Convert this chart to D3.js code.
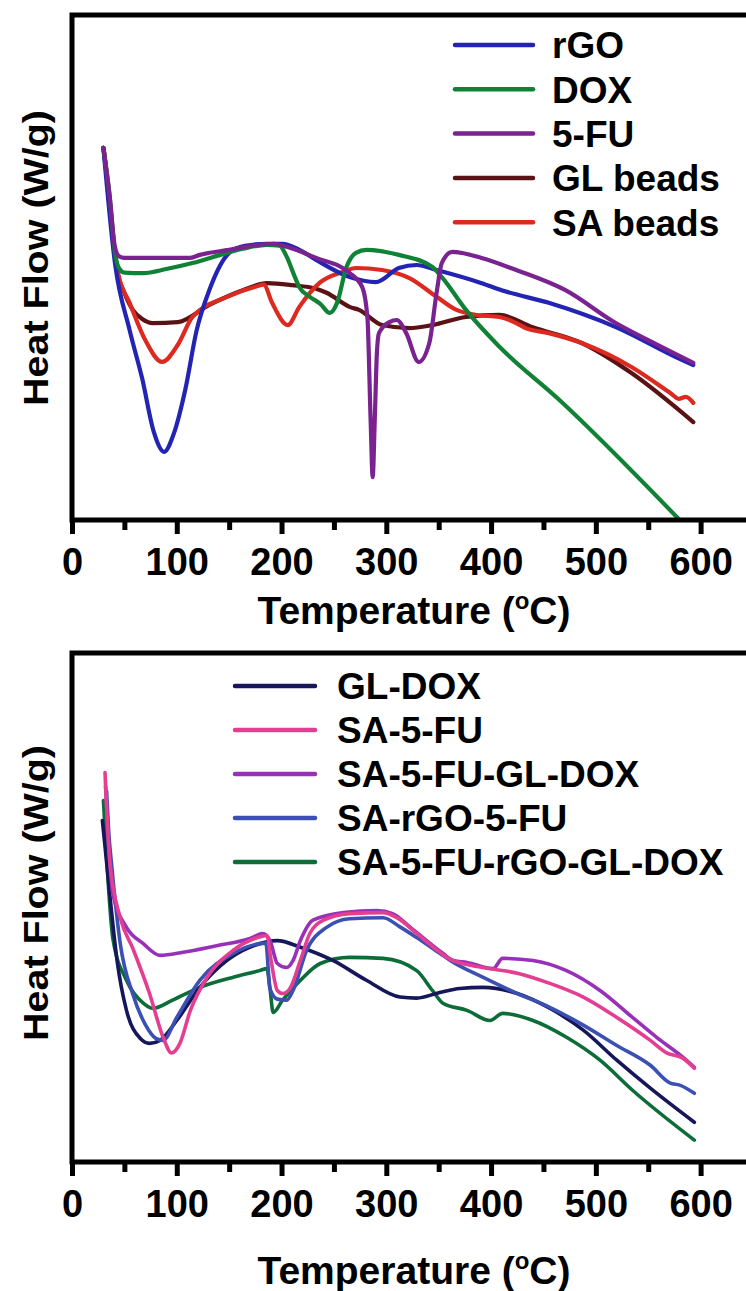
<!DOCTYPE html>
<html>
<head>
<meta charset="utf-8">
<script src="https://cdn.jsdelivr.net/npm/d3@7"></script>
<style>
  html, body { margin: 0; padding: 0; background: #fff; }
  svg { display: block; }
  text { font-family: "Liberation Sans", Arial, sans-serif; font-weight: bold; fill: #000; }
</style>
</head>
<body>
<svg id="chart" width="746" height="1291"></svg>
<script>
// DSC thermograms: heat flow (arbitrary units) against temperature in °C

const temperatureTicks = [0, 100, 200, 300, 400, 500, 600];
const minorTicks = [50, 150, 250, 350, 450, 550, 650];

// ---- upper panel: raw materials and beads ----
const topNames = ["rGO", "DOX", "5-FU", "GL beads", "SA beads"];

const rGO = [[30,7.37],[41,5.09],[55,3.76],[67,2.8],[78,1.75],[88,1.35],[97,1.7],[108,2.57],[119,3.76],[131,4.55],[150,5.29],[165,5.43],[186,5.47],[201,5.47],[217,5.35],[233,5.15],[265,4.81],[290,4.71],[312,4.99],[329,5.05],[348,4.95],[391,4.69],[410,4.55],[455,4.30],[519,3.82],[582,3.17],[593,3.07]];

const DOX = [[30,7.37],[36,6.4],[41,5.3],[45,4.98],[50,4.90],[68,4.89],[90,4.97],[115,5.09],[148,5.29],[163,5.37],[186,5.45],[198,5.43],[205,5.21],[212,4.85],[217,4.61],[227,4.42],[237,4.28],[246,4.10],[253,4.30],[262,5.01],[271,5.29],[281,5.35],[312,5.25],[344,5.01],[353,4.81],[376,4.16],[408,3.43],[465,2.38],[580,0]];

const FU5 = [[30,7.37],[36,6.4],[41,5.4],[45,5.22],[50,5.19],[80,5.19],[112,5.19],[122,5.25],[150,5.35],[179,5.45],[193,5.47],[205,5.41],[233,5.19],[265,4.89],[277,4.61],[282,4.0],[285,2.0],[287,0.85],[289,2.0],[291,3.3],[293,3.7],[303,3.92],[310,3.96],[319,3.70],[331,3.13],[341,3.50],[348,4.50],[353,5.09],[363,5.31],[391,5.19],[424,4.95],[471,4.55],[519,3.90],[550,3.56],[593,3.11]];

const GLbeads = [[30,7.37],[36,6.3],[40,5.4],[43,4.95],[50,4.5],[58,4.16],[67,3.98],[77,3.90],[101,3.92],[131,4.26],[163,4.55],[186,4.69],[210,4.65],[233,4.58],[243,4.50],[265,4.22],[274,4.16],[296,3.86],[322,3.80],[344,3.86],[376,4.02],[408,4.06],[439,3.82],[487,3.50],[534,2.91],[593,1.94]];

const SAbeads = [[30,7.37],[36,6.3],[41,5.3],[44,4.89],[55,4.30],[70,3.56],[86,3.13],[101,3.47],[115,4.02],[148,4.42],[175,4.62],[183,4.66],[191,4.30],[206,3.86],[217,4.22],[236,4.69],[258,4.91],[271,4.99],[296,4.95],[322,4.79],[348,4.42],[367,4.16],[386,4.06],[408,4.02],[424,3.90],[433,3.80],[455,3.70],[487,3.50],[534,3.03],[572,2.50],[579,2.40],[586,2.44],[593,2.32]];

// ---- lower panel: drug-loaded formulations ----
const bottomNames = ["GL-DOX", "SA-5-FU", "SA-5-FU-GL-DOX", "SA-rGO-5-FU", "SA-5-FU-rGO-GL-DOX"];

const GL_DOX = [[29,6.71],[32,6.1],[36,5.27],[43,3.96],[52,2.98],[65,2.43],[74,2.33],[84,2.39],[100,2.78],[122,3.43],[148,3.96],[170,4.22],[196,4.35],[218,4.22],[249,3.96],[281,3.57],[313,3.24],[329,3.22],[351,3.33],[370,3.41],[392,3.43],[425,3.31],[456,3.02],[488,2.59],[520,2.00],[552,1.45],[594,0.78]];

const SA_5FU = [[31.5,7.65],[33,7.0],[36,5.92],[46,4.80],[58,4.20],[74,3.31],[87,2.45],[95,2.14],[103,2.33],[113,2.98],[129,3.63],[154,4.16],[177,4.41],[186,4.45],[190,3.96],[196,3.37],[201,3.31],[208,3.41],[218,3.96],[227,4.49],[240,4.75],[265,4.88],[297,4.90],[310,4.80],[329,4.49],[351,4.12],[361,3.98],[377,3.88],[392,3.82],[425,3.71],[456,3.51],[488,3.24],[520,2.84],[552,2.39],[568,2.14],[583,2.04],[594,1.84]];

const SA_5FU_GL_DOX = [[32,7.39],[34,6.6],[39,5.27],[52,4.61],[68,4.29],[84,4.06],[106,4.12],[138,4.25],[170,4.39],[182,4.49],[189,4.35],[196,3.90],[205,3.82],[211,3.96],[218,4.35],[230,4.75],[259,4.90],[291,4.94],[306,4.88],[323,4.61],[354,4.10],[364,3.96],[377,3.92],[402,3.80],[411,4.00],[440,3.96],[472,3.76],[504,3.37],[535,2.84],[558,2.45],[583,2.06],[594,1.86]];

const SA_rGO_5FU = [[33,7.29],[35,6.5],[38,5.8],[46,4.3],[58,3.3],[70,2.7],[80,2.43],[87,2.39],[100,2.84],[122,3.57],[154,4.10],[179,4.29],[185,4.3],[189,3.4],[196,3.2],[205,3.18],[211,3.37],[224,4.16],[243,4.61],[265,4.78],[297,4.80],[313,4.62],[329,4.41],[351,4.10],[361,3.96],[392,3.63],[425,3.31],[456,3.04],[488,2.69],[520,2.29],[552,1.90],[571,1.55],[580,1.51],[594,1.35]];

const SA_5FU_rGO_GL_DOX = [[30,7.10],[33,6.0],[39,4.39],[52,3.57],[68,3.12],[77,3.02],[96,3.18],[122,3.43],[154,3.63],[179,3.76],[186,3.80],[189,3.4],[192,2.94],[201,3.18],[218,3.57],[237,3.90],[265,4.02],[297,4.00],[329,3.76],[344,3.37],[354,3.12],[377,2.98],[399,2.78],[411,2.92],[440,2.78],[472,2.45],[504,2.00],[535,1.41],[594,0.43]];

// ---- styling ----
const topColors = { "rGO": "#2424b4", "DOX": "#0f8236", "5-FU": "#7a2290", "GL beads": "#5b1214", "SA beads": "#dc2a20" };
const bottomColors = { "GL-DOX": "#16175a", "SA-5-FU": "#e43e92", "SA-5-FU-GL-DOX": "#9830b8", "SA-rGO-5-FU": "#3c50b4", "SA-5-FU-rGO-GL-DOX": "#0d6d39" };

const svg = d3.select("#chart");

const x = d3.scaleLinear().domain([0, 650]).range([72, 753]);

function drawPanel(cfg) {
  const y = d3.scaleLinear().domain([0, 10]).range([cfg.bottom, cfg.top]);
  const g = svg.append("g");

  const clipId = "clip-" + cfg.id;
  g.append("clipPath").attr("id", clipId)
    .append("rect").attr("x", x(0)).attr("y", cfg.top).attr("width", 700).attr("height", cfg.bottom - cfg.top);

  const line = d3.line().x(d => x(d[0])).y(d => y(d[1])).curve(d3.curveMonotoneX);

  const plot = g.append("g").attr("clip-path", `url(#${clipId})`);
  cfg.drawOrder.forEach(name => {
    plot.append("path")
      .datum(cfg.series[name])
      .attr("fill", "none")
      .attr("stroke", cfg.colors[name])
      .attr("stroke-width", cfg.lineWidth)
      .attr("stroke-linejoin", "round")
      .attr("stroke-linecap", "round")
      .attr("d", line);
  });

  // frame (right side runs past the visible area)
  g.append("rect")
    .attr("x", x(0)).attr("y", cfg.top)
    .attr("width", 700).attr("height", cfg.bottom - cfg.top)
    .attr("fill", "none").attr("stroke", "#000").attr("stroke-width", 5);

  // temperature axis
  const axis = d3.axisBottom(x)
    .tickValues(temperatureTicks.concat(minorTicks).sort((a, b) => a - b))
    .tickSize(14).tickSizeOuter(0)
    .tickFormat(d => temperatureTicks.includes(d) ? d : "");
  const ax = g.append("g").attr("transform", `translate(0,${cfg.bottom})`).call(axis);
  ax.select(".domain").remove();
  ax.selectAll(".tick line")
    .attr("stroke", "#000").attr("stroke-width", 5)
    .attr("y2", d => temperatureTicks.includes(d) ? 14 : 10);
  ax.selectAll(".tick text")
    .attr("y", 28)
    .attr("dy", "0.71em")
    .style("font-size", "38px")
    .style("font-family", "'Liberation Sans', Arial, sans-serif")
    .style("font-weight", "bold")
    .attr("fill", "#000");

  // axis titles
  const tt = g.append("text")
    .attr("x", 414).attr("y", cfg.xTitleY)
    .attr("text-anchor", "middle")
    .style("font-size", "39px");
  tt.append("tspan").text("Temperature (");
  tt.append("tspan").text("o").style("font-size", "24px").attr("dy", -15);
  tt.append("tspan").text("C)").attr("dy", 15);

  g.append("text")
    .attr("transform", `translate(48,${cfg.yTitleY}) rotate(-90)`)
    .attr("text-anchor", "middle")
    .attr("textLength", 296).attr("lengthAdjust", "spacingAndGlyphs")
    .style("font-size", "35px")
    .text("Heat Flow (W/g)");

  // legend
  const lg = g.append("g");
  cfg.names.forEach((name, i) => {
    const cy = cfg.legend.y0 + i * cfg.legend.step;
    lg.append("line")
      .attr("x1", cfg.legend.x1).attr("x2", cfg.legend.x2)
      .attr("y1", cy).attr("y2", cy)
      .attr("stroke", cfg.colors[name]).attr("stroke-width", 4.5)
      .attr("stroke-linecap", "round");
    lg.append("text")
      .attr("x", cfg.legend.tx).attr("y", cy).attr("dy", "0.36em")
      .style("font-size", cfg.legend.fontSize + "px")
      .text(name);
  });
}

drawPanel({
  id: "top", top: 15, bottom: 520,
  names: topNames, colors: topColors,
  series: { "rGO": rGO, "DOX": DOX, "5-FU": FU5, "GL beads": GLbeads, "SA beads": SAbeads },
  drawOrder: ["GL beads", "SA beads", "rGO", "DOX", "5-FU"],
  lineWidth: 4.2,
  xTitleY: 624, yTitleY: 258,
  legend: { x1: 455, x2: 533, tx: 552, y0: 45, step: 44.3, fontSize: 37 }
});

drawPanel({
  id: "bottom", top: 653, bottom: 1162,
  names: bottomNames, colors: bottomColors,
  series: { "GL-DOX": GL_DOX, "SA-5-FU": SA_5FU, "SA-5-FU-GL-DOX": SA_5FU_GL_DOX, "SA-rGO-5-FU": SA_rGO_5FU, "SA-5-FU-rGO-GL-DOX": SA_5FU_rGO_GL_DOX },
  drawOrder: ["SA-5-FU-rGO-GL-DOX", "GL-DOX", "SA-rGO-5-FU", "SA-5-FU-GL-DOX", "SA-5-FU"],
  lineWidth: 3.6,
  xTitleY: 1284, yTitleY: 893,
  legend: { x1: 235, x2: 315, tx: 337, y0: 686, step: 44, fontSize: 37 }
});
</script>
</body>
</html>
